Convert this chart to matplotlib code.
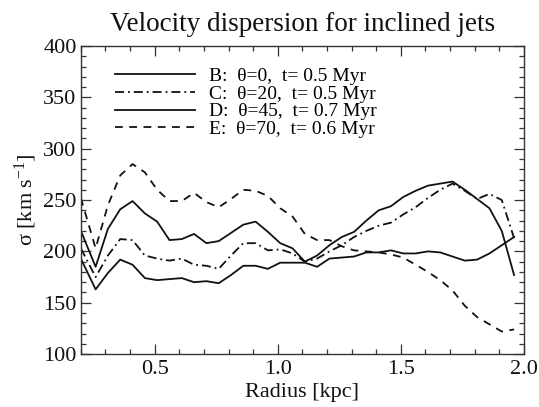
import matplotlib
matplotlib.use("Agg")
import matplotlib.pyplot as plt
from matplotlib.ticker import MultipleLocator

plt.rcParams['font.family'] = ['Liberation Serif', 'DejaVu Serif']
plt.rcParams['mathtext.fontset'] = 'custom'
plt.rcParams['mathtext.rm'] = 'Liberation Serif'
plt.rcParams['mathtext.it'] = 'Liberation Serif:italic'

radius = [0.20, 0.26, 0.31, 0.36, 0.41, 0.46, 0.51, 0.56, 0.61, 0.66,
          0.71, 0.76, 0.81, 0.86, 0.91, 0.96, 1.01, 1.06, 1.11, 1.16,
          1.21, 1.26, 1.31, 1.36, 1.41, 1.46, 1.51, 1.56, 1.61, 1.66,
          1.71, 1.76, 1.81, 1.86, 1.91, 1.96]

sig_b = [220, 185, 222, 241, 249, 237, 229, 211, 212, 217,
         208, 210, 218, 226, 229, 219, 208, 203, 190, 196,
         206, 214, 219, 230, 240, 244, 253, 259, 264, 266,
         268, 260, 251, 242, 220, 177]
sig_c = [203, 175, 196, 212, 211, 196, 193, 191, 193, 187,
         186, 183, 196, 208, 208, 201, 202, 198, 190, 193,
         200, 206, 214, 220, 225, 228, 236, 243, 252, 260,
         266, 259, 251, 256, 250, 213]
sig_d = [193, 163, 179, 192, 187, 174, 172, 173, 174, 170,
         171, 169, 177, 186, 186, 183, 189, 189, 189, 185,
         193, 194, 195, 199, 199, 201, 198, 198, 200, 199,
         195, 191, 192, 198, 206, 214]
sig_e = [252, 203, 245, 274, 285, 277, 260, 249, 249, 257,
         248, 243, 251, 260, 259, 254, 242, 234, 217, 211,
         211, 205, 201, 200, 199, 197, 194, 187, 180, 172,
         162, 147, 136, 129, 122, 124]

labels = ["B:  θ=0,  t= 0.5 Myr",
          "C:  θ=20,  t= 0.5 Myr",
          "D:  θ=45,  t= 0.7 Myr",
          "E:  θ=70,  t= 0.6 Myr"]

fig = plt.figure(figsize=(5.39, 4.07), dpi=100)
ax = fig.add_axes([0.150, 0.130, 0.822, 0.757])

lw = 1.3
ax.plot(radius, sig_b, color='#111111', lw=lw, label=labels[0])
ax.plot(radius, sig_c, color='#111111', lw=lw, ls=(0, (5, 2.2, 1, 2.2)), label=labels[1])
ax.plot(radius, sig_d, color='#111111', lw=lw, label=labels[2])
ax.plot(radius, sig_e, color='#111111', lw=lw, ls=(0, (4.3, 3.6)), label=labels[3])

ax.set_xlim(0.2, 2.0)
ax.set_ylim(100, 400)
ax.xaxis.set_major_locator(MultipleLocator(0.5))
ax.xaxis.set_minor_locator(MultipleLocator(0.1))
ax.yaxis.set_major_locator(MultipleLocator(50))
ax.yaxis.set_minor_locator(MultipleLocator(10))
ax.tick_params(which='both', direction='in', top=True, right=True,
               color='#333333', labelsize=16, labelcolor='#111111')
ax.tick_params(which='major', length=7, width=0.9)
ax.tick_params(which='minor', length=3.5, width=0.9)
ax.tick_params(axis='x', pad=4)
ax.tick_params(axis='y', pad=3)
for s in ax.spines.values():
    s.set_color('#333333')
    s.set_linewidth(1.0)

ax.set_title("Velocity dispersion for inclined jets", fontsize=19.5, color='#111111', pad=11)
ax.set_xlabel("Radius [kpc]", fontsize=16, color='#111111', labelpad=3)
ax.set_ylabel("σ [km s$^{-1}$]", fontsize=16, color='#111111', labelpad=3)

ax.legend(loc='upper left', bbox_to_anchor=(0.06, 0.955), frameon=False,
          fontsize=14, handlelength=4.1, handletextpad=0.7, labelspacing=0.0,
          borderaxespad=0)

fig.savefig("out.png", dpi=100)
